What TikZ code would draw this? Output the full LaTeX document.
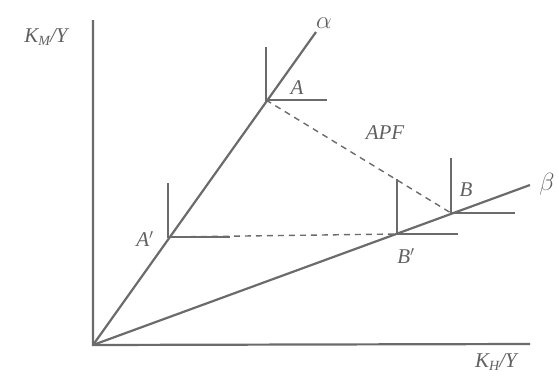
\documentclass[tikz,border=0pt]{standalone}
\usepackage{fontspec}
\setmainfont{Liberation Serif}
\begin{document}
\begin{tikzpicture}[x=1pt,y=-1pt,
  ln/.style={draw=black!58,line width=2.2pt},
  thin/.style={draw=black!58,line width=2pt},
  dsh/.style={draw=black!58,line width=1.4pt,dash pattern=on 6pt off 5pt},
  lbl/.style={inner sep=0pt,font=\fontsize{21}{21}\selectfont\itshape,text=black!62}]
\useasboundingbox (0,0) rectangle (558,378);
\coordinate (O) at (93,345);
\coordinate (Ytop) at (93,20);
\coordinate (Xend) at (530,344);
\coordinate (aEnd) at (316,32);
\coordinate (bEnd) at (530,185);
\coordinate (A) at (266,100);
\coordinate (Ap) at (168,237);
\coordinate (B) at (451,213);
\coordinate (Bp) at (397,234);
\draw[ln] (Ytop) -- (O) -- (Xend);
\draw[ln] (O) -- (aEnd);
\draw[ln] (O) -- (bEnd);
\draw[dsh] (A) -- (B);
\draw[dsh] (Ap) -- (Bp);
% L-shaped isoquants
\draw[thin] (266,47) -- (A) -- (327,100);
\draw[thin] (168,183) -- (Ap) -- (230,237);
\draw[thin] (451,158) -- (B) -- (515,213);
\draw[thin] (397,179) -- (Bp) -- (458,234);
% labels
\node[lbl] (lKM) at (46,37) {K\raisebox{-0.35ex}{\fontsize{14}{14}\selectfont M}/Y};
\node[lbl] (lKH) at (496,362) {K\raisebox{-0.35ex}{\fontsize{14}{14}\selectfont H}/Y};
\node[lbl] (la) at (324,23) {\fontsize{24}{24}\selectfont$\alpha$};
\node[lbl] (lb) at (547,184) {\fontsize{24}{24}\selectfont$\beta$};
\node[lbl] (lA) at (297,88) {A};
\node[lbl] (lAp) at (145,239) {A$'$};
\node[lbl] (lB) at (466,190) {B};
\node[lbl] (lBp) at (406,256) {B$'$};
\node[lbl] (lAPF) at (385,133) {APF};
\end{tikzpicture}
\end{document}
